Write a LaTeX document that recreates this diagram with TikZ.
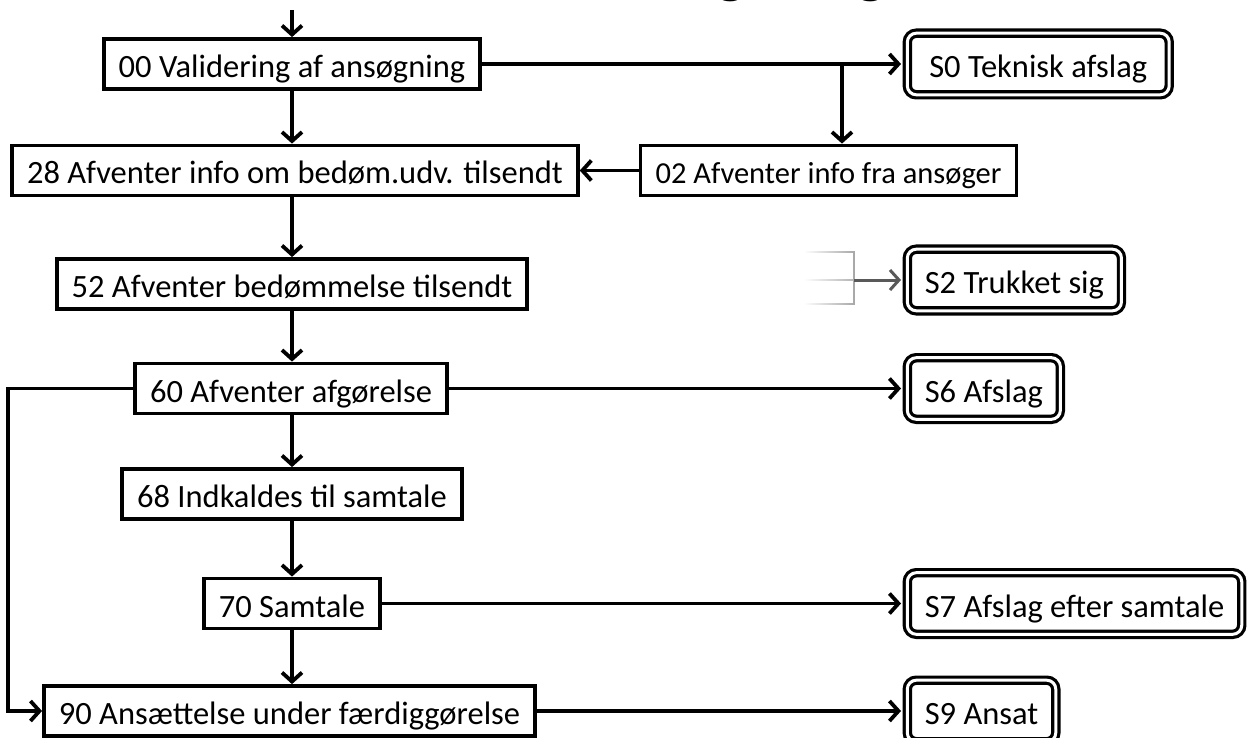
\documentclass[tikz,border=0pt]{standalone}
\usepackage{fontspec}
\setmainfont{Carlito}
\usetikzlibrary{arrows.meta,fadings}
\tikzfading[name=fadeleft, left color=transparent!100, right color=transparent!0]
\begin{document}
\begin{tikzpicture}[x=1pt,y=-1pt,
  txt/.style={font=\fontsize{32.5}{38}\selectfont, text height=30pt, text depth=3pt},
  box/.style={txt, draw, line width=3.8pt, minimum height=50pt, inner xsep=15pt, inner ysep=0pt},
  fin/.style={txt, draw, line width=3.2pt, double=white, double distance=3pt, rounded corners=9pt, minimum height=61.6pt, inner xsep=17.5pt, inner ysep=0pt, anchor=west},
  big/.style={font=\fontsize{66}{70}\selectfont, anchor=base, inner sep=0pt},
  arr/.style={line width=3.8pt, -{Straight Barb[length=9pt,width=20pt]}},
  arrf/.style={arr, shorten >=4.7pt}
]
\useasboundingbox (0,0) rectangle (1253,738);

% cut-off title fragments
\node[big] (tg1) at (731,-9) {g};
\node[big] (tg2) at (871,-9) {g};

% process boxes
\node[box] (n00) at (292,64) {00 Validering af ansøgning};
\node[box] (n28) at (295,170.5) {28 Afventer info om bedøm.udv. tilsendt};
\node[box, font=\fontsize{30.5}{36}\selectfont] (n02) at (828.5,170.5) {02 Afventer info fra ansøger};
\node[box] (n52) at (292,284) {52 Afventer bedømmelse tilsendt};
\node[box] (n60) at (291,388.5) {60 Afventer afgørelse};
\node[box] (n68) at (292,494) {68 Indkaldes til samtale};
\node[box] (n70) at (292,603.5) {70 Samtale};
\node[box] (n90) at (289.5,711) {90 Ansættelse under færdiggørelse};

% final states
\node[fin, inner xsep=22pt] (s0) at (905.7,64) {S0 Teknisk afslag};
\node[fin] (s2) at (905.7,280) {S2 Trukket sig};
\node[fin] (s6) at (905.7,388.5) {S6 Afslag};
\node[fin] (s7) at (905.7,603.5) {S7 Afslag efter samtale};
\node[fin] (s9) at (905.7,711) {S9 Ansat};

% coordinates
\coordinate (top) at (292,10);
\coordinate (br) at (842,64);
\coordinate (lx) at (8,388.5);
\coordinate (g1) at (805,252);
\coordinate (g2) at (854,252);
\coordinate (g3) at (854,304);
\coordinate (g4) at (805,304);
\coordinate (g5) at (805,280);

% main flow
\draw[arr] (top) -- (n00.north);
\draw[arr] (n00.south) -- (n00.south |- n28.north);
\draw[arr] (n28.south -| n00.south) -- (n00.south |- n52.north);
\draw[arr] (n52.south -| n00.south) -- (n00.south |- n60.north);
\draw[arr] (n60.south -| n00.south) -- (n00.south |- n68.north);
\draw[arr] (n68.south -| n00.south) -- (n00.south |- n70.north);
\draw[arr] (n70.south -| n00.south) -- (n00.south |- n90.north);

% side flows
\draw[arrf] (n00.east) -- (s0.west);
\draw[arr] (br) -- (br |- n02.north);
\draw[arr] (n02.west) -- (n28.east);
\draw[arrf] (n60.east) -- (s6.west);
\draw[arrf] (n70.east) -- (s7.west);
\draw[arrf] (n90.east) -- (s9.west);
\draw[arr] (n60.west) -- (lx) |- (n90.west);

% faded lines to S2
\draw[line width=2.6pt, color=black!35, path fading=fadeleft] (g1) -- (g2) -- (g3) -- (g4);
\draw[line width=2.6pt, color=black!30, path fading=fadeleft] (g5) -- (g2 |- g5);
\draw[arrf, line width=3pt, color=black!65] (g2 |- g5) -- (s2.west);
\end{tikzpicture}
\end{document}
